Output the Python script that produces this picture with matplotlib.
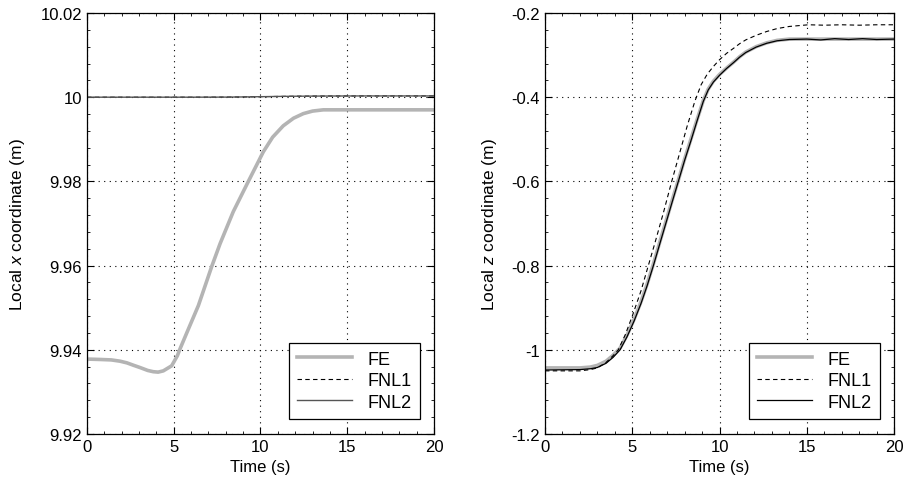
import matplotlib
matplotlib.use("Agg")
import matplotlib.pyplot as plt
from matplotlib.ticker import AutoMinorLocator

plt.rcParams['font.family'] = ['Liberation Sans', 'DejaVu Sans']
plt.rcParams['mathtext.fontset'] = 'custom'
plt.rcParams['mathtext.rm'] = 'Liberation Sans'
plt.rcParams['mathtext.it'] = 'Liberation Sans:italic'

# left panel: local x coordinate
t_fe_x = [0, 0.8, 1.4, 1.9, 2.3, 2.7, 3.05, 3.5, 3.82, 4.1, 4.4, 4.88, 5.21, 5.36, 5.8,
          6.42, 7.19, 7.67, 8.43, 9.3, 10.16, 10.7, 11.31, 11.9, 12.47, 13.0, 13.62,
          14.5, 20]
fe_x = [9.9378, 9.9377, 9.9376, 9.9373, 9.9369, 9.9363, 9.9358, 9.9351, 9.9348, 9.9347,
        9.9350, 9.9362, 9.9386, 9.9402, 9.9445, 9.9505, 9.9598, 9.9652, 9.9728, 9.9800,
        9.9870, 9.9905, 9.9932, 9.9950, 9.9961, 9.9967, 9.9970, 9.9970, 9.9970]
t_fnl_x = [0, 4, 6, 8, 9, 10, 11, 12, 13, 14, 16, 18, 20]
fnl1_x = [10.0, 10.0, 10.0, 10.00002, 10.00006, 10.00012, 10.00018, 10.00023, 10.00026,
          10.00028, 10.0003, 10.0003, 10.0003]
fnl2_x = [10.0, 10.0, 10.0, 10.00002, 10.00006, 10.00012, 10.00018, 10.00023, 10.00026,
          10.00028, 10.0003, 10.0003, 10.0003]

# right panel: local z coordinate
t_z2 = [0, 2.0, 2.6, 3.0, 3.5, 3.9, 4.3, 4.7, 5.1, 5.5, 5.85, 6.21, 6.6, 7.0, 7.3, 7.64,
        8.0, 8.35, 8.7, 9.07, 9.35, 9.65, 10.0, 10.4, 10.8, 11.15, 11.5, 12.1, 12.7, 13.3,
        14.0, 15.0, 15.8, 16.6, 17.4, 18.2, 19.0, 20.0]
fe_z = [-1.043, -1.043, -1.041, -1.037, -1.027, -1.013, -0.996, -0.965, -0.928, -0.886,
        -0.844, -0.796, -0.741, -0.685, -0.643, -0.597, -0.547, -0.501, -0.455, -0.408,
        -0.381, -0.362, -0.346, -0.331, -0.317, -0.304, -0.293, -0.280, -0.271, -0.265,
        -0.262, -0.262, -0.262, -0.262, -0.262, -0.262, -0.262, -0.262]
fnl2_z = [-1.048, -1.047, -1.045, -1.042, -1.032, -1.018, -1.000, -0.969, -0.932, -0.890,
          -0.848, -0.800, -0.745, -0.689, -0.647, -0.600, -0.550, -0.505, -0.458, -0.410,
          -0.383, -0.364, -0.348, -0.332, -0.318, -0.305, -0.294, -0.281, -0.272, -0.266,
          -0.263, -0.262, -0.264, -0.261, -0.263, -0.261, -0.263, -0.262]
t_z1 = [0, 2.0, 2.6, 3.0, 3.5, 3.9, 4.2, 4.6, 5.0, 5.5, 5.92, 6.3, 6.8, 7.26, 7.7, 8.15,
        8.6, 8.95, 9.3, 9.65, 10.0, 10.4, 10.8, 11.15, 11.5, 12.1, 12.7, 13.3, 14.0, 15.1,
        16.0, 17.0, 18.0, 19.0, 20.0]
fnl1_z = [-1.050, -1.050, -1.047, -1.043, -1.030, -1.014, -1.000, -0.964, -0.920, -0.860,
          -0.800, -0.746, -0.672, -0.600, -0.535, -0.468, -0.408, -0.370, -0.345, -0.327,
          -0.311, -0.296, -0.284, -0.273, -0.264, -0.253, -0.244, -0.237, -0.232, -0.228,
          -0.229, -0.228, -0.229, -0.228, -0.228]

fig = plt.figure(figsize=(9.07, 4.89), dpi=100)
ax1 = fig.add_axes([0.0959, 0.1104, 0.3826, 0.861])
ax2 = fig.add_axes([0.6009, 0.1104, 0.3848, 0.861])

grey = '#b4b4b4'
ax1.plot(t_fe_x, fe_x, color=grey, lw=2.6, label='FE')
ax1.plot(t_fnl_x, fnl1_x, color='black', lw=0.8, ls=(0, (4, 3)), label='FNL1')
ax1.plot(t_fnl_x, fnl2_x, color='#555555', lw=1.0, label='FNL2')

ax2.plot(t_z2, fe_z, color=grey, lw=2.6, label='FE')
ax2.plot(t_z1, fnl1_z, color='black', lw=0.8, ls=(0, (4, 3)), label='FNL1')
ax2.plot(t_z2, fnl2_z, color='black', lw=0.9, label='FNL2')

ax1.set_ylim(9.92, 10.02)
ax1.set_yticks([9.92, 9.94, 9.96, 9.98, 10.0, 10.02])
ax1.set_yticklabels(['9.92', '9.94', '9.96', '9.98', '10', '10.02'])
ax1.set_ylabel('Local $\\it{x}$ coordinate (m)', fontsize=12.5, labelpad=10)

ax2.set_ylim(-1.2, -0.2)
ax2.set_yticks([-1.2, -1.0, -0.8, -0.6, -0.4, -0.2])
ax2.set_yticklabels(['-1.2', '-1', '-0.8', '-0.6', '-0.4', '-0.2'])
ax2.set_ylabel('Local $\\it{z}$ coordinate (m)', fontsize=12.5, labelpad=9)

for ax in (ax1, ax2):
    ax.set_xlim(0, 20)
    ax.set_xticks([0, 5, 10, 15, 20])
    ax.xaxis.set_minor_locator(AutoMinorLocator(5))
    ax.yaxis.set_minor_locator(AutoMinorLocator(5))
    ax.set_xlabel('Time (s)', fontsize=12)
    ax.tick_params(which='both', direction='in', top=True, right=True, labelsize=12)
    ax.tick_params(which='major', length=5, width=0.8)
    ax.tick_params(which='minor', length=2.5, width=0.6)
    ax.grid(True, which='major', color='black', lw=0.8, ls=(0, (1, 4)))
    for sp in ax.spines.values():
        sp.set_linewidth(0.9)
    leg = ax.legend(loc='lower right', bbox_to_anchor=(0.96, 0.036), fontsize=13,
                    fancybox=False, framealpha=1, edgecolor='black',
                    handlelength=3.0, borderpad=0.45, labelspacing=0.25, handletextpad=0.9,
                    borderaxespad=0)
    leg.get_frame().set_linewidth(0.9)

fig.savefig('out.png', dpi=100)
